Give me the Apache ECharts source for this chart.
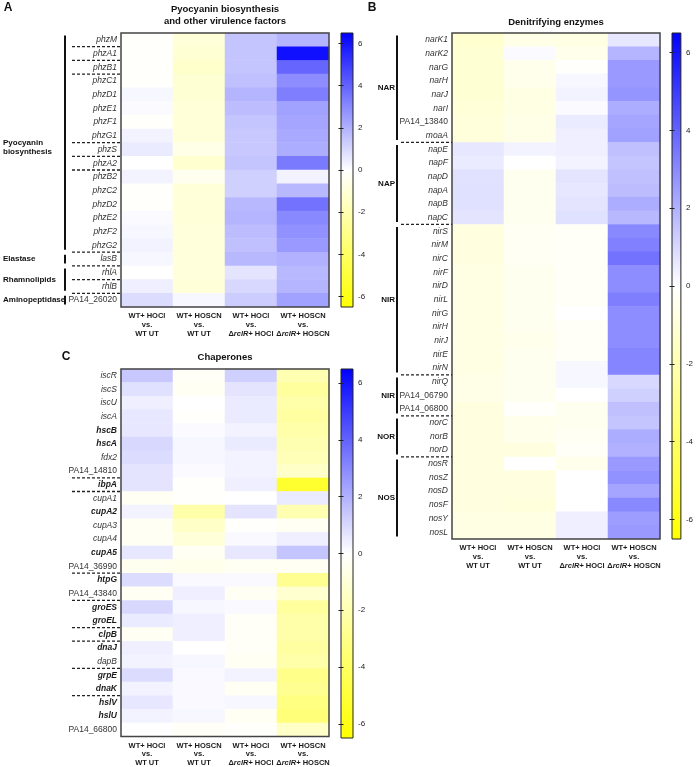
<!DOCTYPE html>
<html>
<head>
<meta charset="utf-8">
<script src="https://cdn.jsdelivr.net/npm/echarts@6/dist/echarts.min.js"></script>
<style>
html,body{margin:0;padding:0;background:#fff;}
#chart{width:696px;height:767px;}
</style>
</head>
<body>
<div id="chart"></div>
<script>
// ---------- column labels ----------
const colLabels = ['WT+ HOCl\nvs.\nWT UT', 'WT+ HOSCN\nvs.\nWT UT', 'WT+ HOCl\nvs.\nΔrclR+ HOCl', 'WT+ HOSCN\nvs.\nΔrclR+ HOSCN'];
const colorTicks = [-6, -4, -2, 0, 2, 4, 6];

// ---------- Panel A: Pyocyanin biosynthesis and other virulence factors ----------
const aGenes = ['phzM','phzA1','phzB1','phzC1','phzD1','phzE1','phzF1','phzG1','phzS','phzA2','phzB2','phzC2','phzD2','phzE2','phzF2','phzG2','lasB','rhlA','rhlB','PA14_26020'];
const aHOClvsUT     = [-0.1,-0.1,-0.1,-0.1, 0.2, 0.1,-0.1, 0.3, 0.5, 0.0, 0.3,-0.1,-0.1, 0.1, 0.2, 0.3, 0.2, 0.0, 0.4, 0.9];
const aHOSCNvsUT    = [-1.0,-1.1,-1.3,-1.1,-1.1,-1.0,-1.0,-1.0,-0.6,-1.2,-0.4,-1.0,-1.0,-1.0,-0.9,-0.9,-0.9,-0.9,-1.0, 0.2];
const aHOClvsRclR   = [ 1.5, 1.5, 1.5, 1.6, 1.9, 1.7, 1.5, 1.4, 1.4, 1.5, 1.2, 1.2, 1.8, 1.9, 1.7, 1.6, 1.8, 0.7, 1.0, 1.3];
const aHOSCNvsRclR  = [ 1.9, 6.1, 3.9, 2.9, 3.3, 2.4, 2.3, 2.2, 2.1, 3.4, 0.3, 1.8, 3.6, 3.0, 2.8, 2.6, 2.0, 1.8, 1.9, 2.4];
const aSeparators = [0, 1, 2, 7, 8, 9, 15, 16, 17, 18];
const aGroupNames = ['Pyocyanin\nbiosynthesis', 'Elastase', 'Rhamnolipids', 'Aminopeptidase'];
const aGroupStart = [0, 16, 17, 19];
const aGroupEnd   = [15, 16, 18, 19];

// ---------- Panel B: Denitrifying enzymes ----------
const bGenes = ['narK1','narK2','narG','narH','narJ','narI','PA14_13840','moaA','napE','napF','napD','napA','napB','napC','nirS','nirM','nirC','nirF','nirD','nirL','nirG','nirH','nirJ','nirE','nirN','nirQ','PA14_06790','PA14_06800','norC','norB','norD','nosR','nosZ','nosD','nosF','nosY','nosL'];
const bHOClvsUT    = [-1.2,-1.1,-1.1,-1.1,-1.1,-1.0,-0.9,-0.9, 0.6, 0.5, 0.8, 0.8, 0.8, 0.7,-0.8,-0.8,-0.8,-0.7,-0.7,-0.7,-0.7,-0.7,-0.7,-0.7,-0.7,-0.6,-0.6,-0.8,-0.8,-0.8,-0.8,-0.8,-0.8,-0.8,-0.8,-0.7,-0.7];
const bHOSCNvsUT   = [-0.6, 0.1,-0.5,-0.5,-0.7,-0.7,-0.6,-0.6, 0.3, 0.0,-0.4,-0.4,-0.4,-0.4,-0.3,-0.3,-0.3,-0.4,-0.4,-0.4,-0.4,-0.4,-0.5,-0.4,-0.4,-0.4,-0.4,-0.1,-0.5,-0.5,-0.8, 0.0,-0.8,-0.8,-0.9,-0.7,-0.7];
const bHOClvsRclR  = [-0.7,-0.5,-0.1, 0.2, 0.3, 0.1, 0.5, 0.4, 0.4, 0.3, 0.7, 0.6, 0.7, 0.8,-0.2,-0.2,-0.2,-0.2,-0.2,-0.2, 0.0,-0.2,-0.2,-0.2, 0.2, 0.2, 0.0,-0.4,-0.4,-0.3,-0.2,-0.5, 0.0, 0.0, 0.0, 0.4, 0.4];
const bHOSCNvsRclR = [ 0.6, 1.9, 2.6, 2.6, 2.7, 2.1, 2.3, 2.4, 1.6, 1.5, 1.6, 1.7, 2.1, 1.8, 3.0, 3.2, 3.6, 2.9, 2.9, 3.3, 2.9, 2.9, 2.9, 3.1, 3.1, 1.0, 1.2, 1.6, 1.5, 2.1, 2.0, 2.6, 2.8, 2.3, 3.0, 2.5, 2.6];
const bSeparators = [7, 13, 24, 27, 30];
const bGroupNames = ['NAR', 'NAP', 'NIR', 'NIR', 'NOR', 'NOS'];
const bGroupStart = [0, 8, 14, 25, 28, 31];
const bGroupEnd   = [7, 13, 24, 27, 30, 36];
const bGroupLabelRow = [3.5, 10.5, 19, 26, 29, 33.5];

// ---------- Panel C: Chaperones ----------
const cGenes = ['iscR','iscS','iscU','iscA','hscB','hscA','fdx2','PA14_14810','ibpA','cupA1','cupA2','cupA3','cupA4','cupA5','PA14_36990','htpG','PA14_43840','groES','groEL','clpB','dnaJ','dapB','grpE','dnaK','hslV','hslU','PA14_66800'];
const cBoldGenes = ['hscB','hscA','ibpA','cupA2','cupA5','htpG','groES','groEL','clpB','dnaJ','grpE','dnaK','hslV','hslU'];
const cHOClvsUT    = [ 1.4, 0.8, 0.4, 0.6, 0.6, 1.0, 0.9, 0.7, 0.7,-0.3, 0.3,-0.3,-0.3, 0.6,-0.4, 0.9,-0.3, 1.0, 0.5,-0.3, 0.4, 0.3, 0.9, 0.3, 0.6, 0.3, 0.0];
const cHOSCNvsUT   = [-0.2,-0.3, 0.0,-0.1, 0.1, 0.2, 0.2, 0.1,-0.1,-0.1,-2.2,-1.4,-1.0,-0.3,-0.5, 0.15, 0.4, 0.2, 0.4, 0.4, 0.0, 0.2, 0.15, 0.15, 0.15, 0.2,-0.2];
const cHOClvsRclR  = [ 1.2, 0.7, 0.5, 0.5, 0.3, 0.5, 0.3, 0.3, 0.4, 0.0, 0.7,-0.1, 0.15, 0.6,-0.3, 0.15,-0.3, 0.15,-0.2,-0.2,-0.2,-0.3, 0.3,-0.3, 0.2,-0.3,-0.1];
const cHOSCNvsRclR = [-2.0,-2.5,-2.2,-2.4,-2.2,-2.0,-1.8,-1.4,-5.3, 0.5,-2.0,-0.3, 0.4, 1.5,-0.3,-2.8,-1.2,-2.5,-2.2,-2.2,-2.4,-2.2,-3.0,-2.8,-3.2,-3.4,-1.4];
const cSeparators = [7, 8, 14, 16, 18, 19, 21, 23];

// ---------- build ----------
function cells(cols) {
  const d = [];
  cols.forEach((col, x) => col.forEach((v, y) => d.push([x, y, v])));
  return d;
}
const FONT = '"Liberation Sans", Arial, Helvetica, sans-serif';
const INK = '#1a1a1a';

function xLabelFmt(value) {
  return value.split('\n').map(line => {
    if (line.charAt(0) === 'Δ') {
      return '{b|Δ}{bi|rclR}{b|' + line.slice(5) + '}';
    }
    return '{b|' + line + '}';
  }).join('\n');
}
function yLabelFmt(boldList) {
  return function (value) {
    if (value.indexOf('PA14_') === 0) return '{n|' + value + '}';
    if (boldList.indexOf(value) >= 0) return '{bi|' + value + '}';
    return '{i|' + value + '}';
  };
}
const xRich = {
  b:  { fontWeight: 'bold', fontSize: 7.5, lineHeight: 8.6, color: INK, fontFamily: FONT },
  bi: { fontWeight: 'bold', fontStyle: 'italic', fontSize: 7.5, lineHeight: 8.6, color: INK, fontFamily: FONT }
};
const yRich = {
  i:  { fontStyle: 'italic', fontSize: 8.5, color: '#333', fontFamily: FONT },
  bi: { fontStyle: 'italic', fontWeight: 'bold', fontSize: 8.5, color: INK, fontFamily: FONT },
  n:  { fontSize: 8.5, color: '#333', fontFamily: FONT }
};

const heatGrids = [
  { left: 121, top: 33, width: 208, height: 274 },
  { left: 452, top: 33, width: 208, height: 506 },
  { left: 121, top: 369, width: 208, height: 369 }
];
const barGrids = [
  { left: 341, top: 33, width: 12, height: 274 },
  { left: 672, top: 33, width: 11, height: 506 },
  { left: 341, top: 369, width: 12, height: 369 }
];
const gradient = {
  type: 'linear', x: 0, y: 0, x2: 0, y2: 1,
  colorStops: [
    { offset: 0, color: '#0000ff' },
    { offset: 0.5, color: '#ffffff' },
    { offset: 1, color: '#ffff00' }
  ]
};

const grids = [];
heatGrids.forEach(g => grids.push(Object.assign({ show: true, z: 5, borderColor: '#444', borderWidth: 1.5, backgroundColor: 'transparent' }, g)));
barGrids.forEach(g => grids.push(Object.assign({ show: true, borderColor: '#222', borderWidth: 1, backgroundColor: gradient }, g)));

const geneLists = [aGenes, bGenes, cGenes];
const boldLists = [[], [], cBoldGenes];

const xAxes = [], yAxes = [];
for (let p = 0; p < 3; p++) {
  xAxes.push({
    gridIndex: p, type: 'category', data: colLabels, position: 'bottom',
    axisLine: { show: false }, axisTick: { show: false }, splitLine: { show: false },
    axisLabel: { interval: 0, margin: 5, formatter: xLabelFmt, rich: xRich, verticalAlign: 'top' }
  });
  yAxes.push({
    gridIndex: p, type: 'category', data: geneLists[p], inverse: true,
    axisLine: { show: false }, axisTick: { show: false }, splitLine: { show: false },
    axisLabel: { interval: 0, margin: 4, formatter: yLabelFmt(boldLists[p]), rich: yRich }
  });
}
for (let p = 0; p < 3; p++) {
  xAxes.push({ gridIndex: 3 + p, type: 'value', show: false, min: 0, max: 1 });
  ['right', 'left'].forEach(pos => {
    yAxes.push({
      gridIndex: 3 + p, type: 'value', position: pos, min: -6.5, max: 6.5,
      axisLine: { show: false }, splitLine: { show: false },
      axisTick: { show: true, inside: true, length: 2.5, customValues: colorTicks, lineStyle: { color: '#222', width: 1 } },
      axisLabel: { show: pos === 'right', customValues: colorTicks, margin: 5, fontSize: 8, color: '#222', fontFamily: FONT }
    });
  });
}

const series = [
  { type: 'heatmap', xAxisIndex: 0, yAxisIndex: 0, data: cells([aHOClvsUT, aHOSCNvsUT, aHOClvsRclR, aHOSCNvsRclR]) },
  { type: 'heatmap', xAxisIndex: 1, yAxisIndex: 1, data: cells([bHOClvsUT, bHOSCNvsUT, bHOClvsRclR, bHOSCNvsRclR]) },
  { type: 'heatmap', xAxisIndex: 2, yAxisIndex: 2, data: cells([cHOClvsUT, cHOSCNvsUT, cHOClvsRclR, cHOSCNvsRclR]) }
];
series.forEach(s => { s.emphasis = { disabled: true }; s.progressive = 0; });

const chart = echarts.init(document.getElementById('chart'), null, { renderer: 'canvas' });
chart.setOption({
  animation: false,
  backgroundColor: '#ffffff',
  grid: grids,
  xAxis: xAxes,
  yAxis: yAxes,
  visualMap: {
    show: false, type: 'continuous', min: -6.5, max: 6.5, seriesIndex: [0, 1, 2], dimension: 2,
    inRange: { color: ['#ffff00', '#ffffff', '#0000ff'] }
  },
  series: series
});

// ---------- annotations (positions derived from the axes) ----------
const graphics = [];
function rowCenter(p, i) { return chart.convertToPixel({ yAxisIndex: p }, i); }
function halfRow(p) { return (rowCenter(p, 1) - rowCenter(p, 0)) / 2; }
function gridLeft(p) {
  const c0 = chart.convertToPixel({ xAxisIndex: p }, 0);
  const c1 = chart.convertToPixel({ xAxisIndex: p }, 1);
  return c0 - (c1 - c0) / 2;
}
function addSeparators(p, list, dashLen) {
  const h = halfRow(p), gl = gridLeft(p);
  list.forEach(i => {
    const y = rowCenter(p, i) + h;
    graphics.push({ type: 'line', silent: true, z: 10,
      shape: { x1: gl - dashLen, y1: y, x2: gl, y2: y },
      style: { stroke: '#222', lineWidth: 1.3, lineDash: [3, 2] } });
  });
}
function addBrackets(p, starts, ends, offset) {
  const h = halfRow(p), gl = gridLeft(p);
  starts.forEach((s, k) => {
    const y1 = rowCenter(p, s) - h + 2.5, y2 = rowCenter(p, ends[k]) + h - 2.5;
    graphics.push({ type: 'line', silent: true, z: 10,
      shape: { x1: gl - offset, y1: y1, x2: gl - offset, y2: y2 },
      style: { stroke: '#111', lineWidth: 2 } });
  });
}
function textEl(x, y, text, font, align, lineHeight) {
  graphics.push({ type: 'text', silent: true, z: 10, x: x, y: y,
    style: { text: text, font: font, fill: '#111', textAlign: align, textVerticalAlign: 'middle', lineHeight: lineHeight || 10 } });
}

// Panel A
addSeparators(0, aSeparators, 49);
addBrackets(0, aGroupStart, aGroupEnd, 56);
aGroupNames.forEach((name, k) => {
  const yc = (rowCenter(0, aGroupStart[k]) + rowCenter(0, aGroupEnd[k])) / 2 + (k === 0 ? 5 : 0);
  textEl(gridLeft(0) - 118, yc, name, 'bold 8px ' + FONT, 'left', 9);
});
// Panel B
addSeparators(1, bSeparators, 51);
addBrackets(1, bGroupStart, bGroupEnd, 55);
bGroupNames.forEach((name, k) => {
  const yc = chart.convertToPixel({ yAxisIndex: 1 }, 0) + bGroupLabelRow[k] * 2 * halfRow(1);
  textEl(gridLeft(1) - 57, yc, name, 'bold 8px ' + FONT, 'right');
});
// Panel C
addSeparators(2, cSeparators, 49);

// Titles and panel letters
textEl(8, 8, 'A', 'bold 12px ' + FONT, 'center');
textEl(372, 8, 'B', 'bold 12px ' + FONT, 'center');
textEl(66, 357, 'C', 'bold 12px ' + FONT, 'center');
textEl(225, 15.5, 'Pyocyanin biosynthesis\nand other virulence factors', 'bold 9.5px ' + FONT, 'center', 12);
textEl(556, 22, 'Denitrifying enzymes', 'bold 9.5px ' + FONT, 'center');
textEl(225, 357, 'Chaperones', 'bold 9.5px ' + FONT, 'center');

chart.setOption({ graphic: graphics });
</script>
</body>
</html>
